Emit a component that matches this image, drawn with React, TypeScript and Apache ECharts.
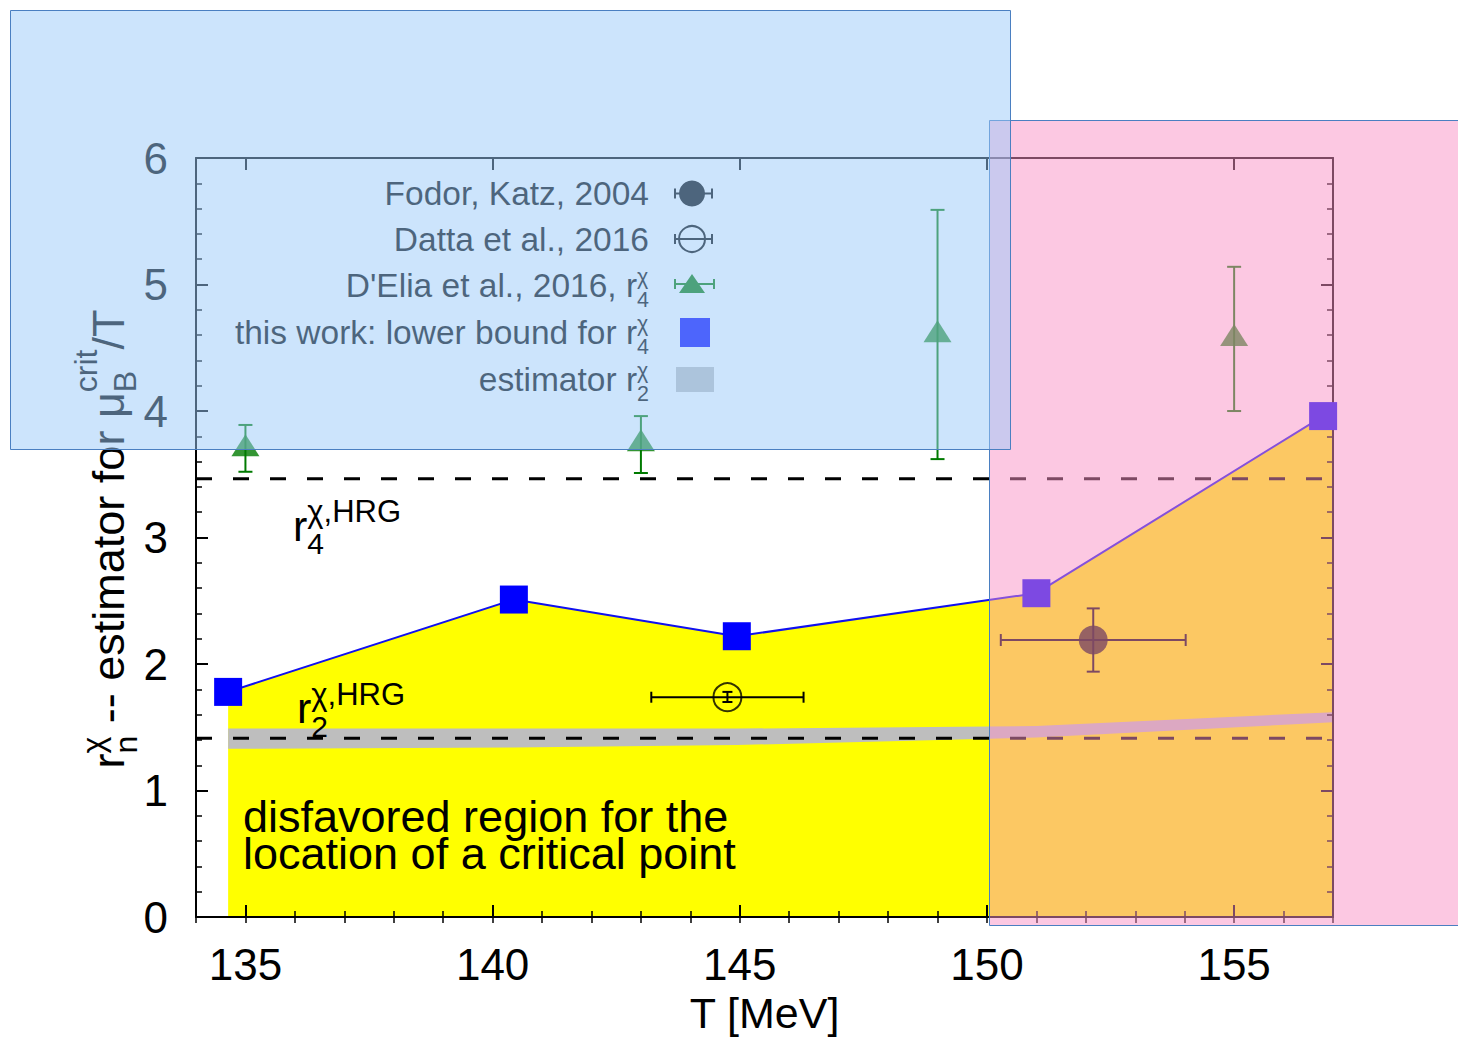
import React, { useEffect, useRef } from 'react';
import * as echarts from 'echarts';

const FONT = "'Liberation Sans', Arial, Helvetica, sans-serif";

// ---- axes ----
const xMin = 134;
const xMax = 157;
const xMajorTicks = [135, 140, 145, 150, 155];
const yMin = 0;
const yMax = 6;

// ---- this work: lower bound for r4 ----
const thisWorkT = [134.65, 140.43, 144.94, 151.0, 156.8];
const thisWorkV = [1.78, 2.51, 2.22, 2.56, 3.96];

// ---- upper boundary of the disfavored region (filled) ----
const regionT = [134.65, 140.43, 144.94, 151.0, 156.8, 157];
const regionV = [1.78, 2.51, 2.22, 2.56, 3.96, 4.0];

// ---- estimator r2 band ----
const bandT = [134.65, 140.43, 144.94, 151.0, 157];
const bandLo = [1.33, 1.34, 1.36, 1.42, 1.54];
const bandHi = [1.49, 1.49, 1.49, 1.51, 1.62];

// ---- D'Elia et al., 2016 ----
const deliaT = [135, 143, 149, 155];
const deliaV = [3.73, 3.77, 4.63, 4.6];
const deliaLo = [3.52, 3.51, 3.62, 4.0];
const deliaHi = [3.89, 3.96, 5.59, 5.14];

// ---- Fodor, Katz, 2004 ----
const fodorT = [152.15];
const fodorV = [2.19];
const fodorXErr = [1.87];
const fodorLo = [1.94];
const fodorHi = [2.44];

// ---- Datta et al., 2016 ----
const dattaT = [144.75];
const dattaV = [1.738];
const dattaXErr = [1.54];
const dattaLo = [1.7];
const dattaHi = [1.78];

// ---- HRG reference values ----
const hrgR4 = 3.464;
const hrgR2 = 1.414;

const GREEN = '#007a00';
const BLUE = '#0000ff';
const GRAY = '#bebebe';
const YELLOW = '#ffff00';

type Piece = { t: string; s: number; dy: number };

let measureCtx: CanvasRenderingContext2D | null = null;
function textWidth(t: string, s: number): number {
  if (!measureCtx) {
    const c = document.createElement('canvas');
    measureCtx = c.getContext('2d');
  }
  if (!measureCtx) return t.length * s * 0.55;
  measureCtx.font = `${s}px ${FONT}`;
  return measureCtx.measureText(t).width;
}

function buildRun(
  groups: Piece[][],
  x0: number,
  baseline: number,
  color: string,
  anchor: 'left' | 'right' | 'center',
  z: number
): any[] {
  const widths = groups.map((g) => Math.max(...g.map((p) => textWidth(p.t, p.s))));
  const total = widths.reduce((a, b) => a + b, 0);
  let x = anchor === 'left' ? x0 : anchor === 'right' ? x0 - total : x0 - total / 2;
  const els: any[] = [];
  groups.forEach((g, i) => {
    g.forEach((p) => {
      els.push({
        type: 'text',
        x,
        y: baseline + p.dy - 0.3465 * p.s,
        z,
        silent: true,
        style: {
          text: p.t,
          fontSize: p.s,
          fontFamily: FONT,
          fill: color,
          align: 'left',
          textAlign: 'left',
          verticalAlign: 'middle',
          textVerticalAlign: 'middle',
        },
      });
    });
    x += widths[i];
  });
  return els;
}

function errorBarItem(color: string, capX: number, capY: number) {
  return (_params: any, api: any) => {
    const x = api.value(0);
    const y = api.value(1);
    const xe = api.value(2);
    const lo = api.value(3);
    const hi = api.value(4);
    const style = { stroke: color, lineWidth: 2 };
    const pLo = api.coord([x, lo]);
    const pHi = api.coord([x, hi]);
    const children: any[] = [
      { type: 'line', shape: { x1: pLo[0], y1: pLo[1], x2: pHi[0], y2: pHi[1] }, style },
      { type: 'line', shape: { x1: pLo[0] - capX, y1: pLo[1], x2: pLo[0] + capX, y2: pLo[1] }, style },
      { type: 'line', shape: { x1: pHi[0] - capX, y1: pHi[1], x2: pHi[0] + capX, y2: pHi[1] }, style },
    ];
    if (xe > 0) {
      const pL = api.coord([x - xe, y]);
      const pR = api.coord([x + xe, y]);
      children.push(
        { type: 'line', shape: { x1: pL[0], y1: pL[1], x2: pR[0], y2: pR[1] }, style },
        { type: 'line', shape: { x1: pL[0], y1: pL[1] - capY, x2: pL[0], y2: pL[1] + capY }, style },
        { type: 'line', shape: { x1: pR[0], y1: pR[1] - capY, x2: pR[0], y2: pR[1] + capY }, style }
      );
    }
    return { type: 'group', children };
  };
}

function legendBar(cy: number, x1: number, x2: number, color: string): any[] {
  const style = { stroke: color, lineWidth: 2 };
  return [
    { type: 'line', z: 50, silent: true, shape: { x1, y1: cy, x2, y2: cy }, style },
    { type: 'line', z: 50, silent: true, shape: { x1, y1: cy - 5, x2: x1, y2: cy + 5 }, style },
    { type: 'line', z: 50, silent: true, shape: { x1: x2, y1: cy - 5, x2, y2: cy + 5 }, style },
  ];
}

function buildOption(): any {
  const axisLineStyle = { color: '#000', width: 2 };
  const majorTick = { show: true, inside: true, length: 12, lineStyle: { color: '#000', width: 2 } };
  const minorTickX = { show: true, inside: true, length: 6, lineStyle: { color: '#000', width: 1.5 } };

  const xBase = {
    type: 'value',
    min: xMin,
    max: xMax,
    z: 3,
    splitLine: { show: false },
  };

  const yBase = {
    type: 'value',
    min: yMin,
    max: yMax,
    interval: 1,
    z: 3,
    splitLine: { show: false },
    axisLine: { show: true, onZero: false, lineStyle: axisLineStyle },
    axisTick: majorTick,
    minorTick: { show: true, splitNumber: 5, length: 6, lineStyle: { color: '#000', width: 1.5 } },
  };

  const graphics: any[] = [];

  // y-axis title (rotated)
  const yTitleGroups: Piece[][] = [
    [{ t: 'r', s: 45, dy: 0 }],
    [
      { t: 'χ', s: 32, dy: -20 },
      { t: 'n', s: 32, dy: 13 },
    ],
    [{ t: ' -- estimator for μ', s: 45, dy: 0 }],
    [
      { t: 'crit', s: 32, dy: -27 },
      { t: 'B', s: 32, dy: 12 },
    ],
    [{ t: '/T', s: 45, dy: 0 }],
  ];
  const yTitleLen = yTitleGroups
    .map((g) => Math.max(...g.map((p) => textWidth(p.t, p.s))))
    .reduce((a, b) => a + b, 0);
  graphics.push({
    type: 'group',
    x: 124,
    y: 539 + yTitleLen / 2,
    rotation: Math.PI / 2,
    z: 50,
    children: buildRun(yTitleGroups, 0, 0, '#000', 'left', 50),
  });

  // HRG labels
  graphics.push(
    ...buildRun(
      [
        [{ t: 'r', s: 43, dy: 0 }],
        [
          { t: 'χ,HRG', s: 31, dy: -19 },
          { t: '4', s: 30, dy: 13 },
        ],
      ],
      293,
      541,
      '#000',
      'left',
      50
    )
  );
  graphics.push(
    ...buildRun(
      [
        [{ t: 'r', s: 43, dy: 0 }],
        [
          { t: 'χ,HRG', s: 31, dy: -18 },
          { t: '2', s: 30, dy: 14 },
        ],
      ],
      297,
      723,
      '#000',
      'left',
      50
    )
  );

  // disfavored region text (two tight lines in one text element)
  graphics.push({
    type: 'text',
    x: 243,
    y: 833 - 0.78 * 45,
    z: 50,
    silent: true,
    style: {
      text: 'disfavored region for the\nlocation of a critical point',
      fontSize: 45,
      fontFamily: FONT,
      fill: '#000',
      lineHeight: 37,
      align: 'left',
      textAlign: 'left',
      verticalAlign: 'top',
      textVerticalAlign: 'top',
    },
  });

  // legend texts
  const legendRight = 649;
  const LS = 33.5;
  const SS = 21.5;
  const SUP = -13;
  const SUB = 10;
  const legendRows: { groups: Piece[][]; baseline: number }[] = [
    { groups: [[{ t: 'Fodor, Katz, 2004', s: LS, dy: 0 }]], baseline: 205 },
    { groups: [[{ t: 'Datta et al., 2016', s: LS, dy: 0 }]], baseline: 251 },
    {
      groups: [
        [{ t: "D'Elia et al., 2016, r", s: LS, dy: 0 }],
        [
          { t: 'χ', s: SS, dy: SUP },
          { t: '4', s: SS, dy: SUB },
        ],
      ],
      baseline: 297,
    },
    {
      groups: [
        [{ t: 'this work: lower bound for r', s: LS, dy: 0 }],
        [
          { t: 'χ', s: SS, dy: SUP },
          { t: '4', s: SS, dy: SUB },
        ],
      ],
      baseline: 344,
    },
    {
      groups: [
        [{ t: 'estimator r', s: LS, dy: 0 }],
        [
          { t: 'χ', s: SS, dy: SUP },
          { t: '2', s: SS, dy: SUB },
        ],
      ],
      baseline: 391,
    },
  ];
  legendRows.forEach((r) => graphics.push(...buildRun(r.groups, legendRight, r.baseline, '#000', 'right', 50)));

  // legend symbols
  graphics.push(...legendBar(193.5, 675, 712, '#000'));
  graphics.push({ type: 'circle', z: 51, silent: true, shape: { cx: 692, cy: 193.5, r: 13 }, style: { fill: '#000' } });
  graphics.push(...legendBar(239, 675, 712, '#000'));
  graphics.push({
    type: 'circle',
    z: 51,
    silent: true,
    shape: { cx: 692, cy: 239, r: 13 },
    style: { fill: 'rgba(0,0,0,0)', stroke: '#000', lineWidth: 2 },
  });
  graphics.push(...legendBar(284, 675, 714, GREEN));
  graphics.push({
    type: 'polygon',
    z: 51,
    silent: true,
    shape: { points: [[692, 274], [705, 293], [679, 293]] },
    style: { fill: GREEN },
  });
  graphics.push({ type: 'rect', z: 51, silent: true, shape: { x: 680, y: 318, width: 30, height: 29 }, style: { fill: BLUE } });
  graphics.push({ type: 'rect', z: 51, silent: true, shape: { x: 676, y: 367, width: 38, height: 25 }, style: { fill: GRAY } });

  // overlays (pink first, blue on top)
  graphics.push({
    type: 'rect',
    z: 100,
    silent: true,
    shape: { x: 989.5, y: 120.5, width: 470, height: 805 },
    style: { fill: 'rgba(249,145,197,0.5)', stroke: '#4a7fc1', lineWidth: 1 },
  });
  graphics.push({
    type: 'rect',
    z: 101,
    silent: true,
    shape: { x: 10.5, y: 10.5, width: 1000, height: 439 },
    style: { fill: 'rgba(153,201,249,0.5)', stroke: '#4a7fc1', lineWidth: 1 },
  });

  return {
    animation: false,
    backgroundColor: '#ffffff',
    textStyle: { fontFamily: FONT },
    grid: { left: 196, right: 125, top: 158, bottom: 118, containLabel: false },
    xAxis: [
      {
        ...xBase,
        position: 'bottom',
        axisLine: { show: true, onZero: false, lineStyle: axisLineStyle },
        axisTick: { ...majorTick, customValues: xMajorTicks },
        axisLabel: {
          show: true,
          customValues: xMajorTicks,
          fontSize: 44,
          color: '#000',
          fontFamily: FONT,
          margin: 25,
        },
        name: 'T [MeV]',
        nameLocation: 'middle',
        nameGap: 71,
        nameTextStyle: { fontSize: 43, color: '#000', fontFamily: FONT },
      },
      {
        ...xBase,
        position: 'bottom',
        interval: 1,
        axisLine: { show: false },
        axisTick: minorTickX,
        axisLabel: { show: false },
      },
      {
        ...xBase,
        position: 'top',
        axisLine: { show: true, onZero: false, lineStyle: axisLineStyle },
        axisTick: { ...majorTick, customValues: xMajorTicks },
        axisLabel: { show: false },
      },
      {
        ...xBase,
        position: 'top',
        interval: 1,
        axisLine: { show: false },
        axisTick: minorTickX,
        axisLabel: { show: false },
      },
    ],
    yAxis: [
      {
        ...yBase,
        position: 'left',
        axisLabel: { show: true, fontSize: 44, color: '#000', fontFamily: FONT, margin: 28 },
      },
      {
        ...yBase,
        position: 'right',
        axisLabel: { show: false },
      },
    ],
    graphic: { elements: graphics },
    series: [
      {
        name: 'disfavored region',
        type: 'line',
        z: 1,
        data: regionT.map((t, i) => [t, regionV[i]]),
        symbol: 'none',
        lineStyle: { width: 0, opacity: 0 },
        areaStyle: { color: YELLOW, opacity: 1, origin: 'start' },
        silent: true,
      },
      {
        name: 'estimator r2',
        type: 'custom',
        z: 2,
        silent: true,
        data: [[bandT[0], bandLo[0]]],
        encode: { x: 0, y: 1 },
        renderItem: (_p: any, api: any) => {
          const pts: number[][] = [];
          for (let i = 0; i < bandT.length; i++) pts.push(api.coord([bandT[i], bandHi[i]]));
          for (let i = bandT.length - 1; i >= 0; i--) pts.push(api.coord([bandT[i], bandLo[i]]));
          return { type: 'polygon', shape: { points: pts }, style: { fill: GRAY } };
        },
      },
      {
        name: 'r4 HRG',
        type: 'line',
        z: 4,
        data: [
          [xMin, hrgR4],
          [xMax, hrgR4],
        ],
        symbol: 'none',
        lineStyle: { color: '#000', width: 3, type: [16, 21] },
        silent: true,
      },
      {
        name: 'r2 HRG',
        type: 'line',
        z: 4,
        data: [
          [xMin, hrgR2],
          [xMax, hrgR2],
        ],
        symbol: 'none',
        lineStyle: { color: '#000', width: 3, type: [16, 21] },
        silent: true,
      },
      {
        name: 'this work',
        type: 'line',
        z: 5,
        data: thisWorkT.map((t, i) => [t, thisWorkV[i]]),
        symbol: 'rect',
        symbolSize: 28,
        lineStyle: { color: '#1010f0', width: 2 },
        itemStyle: { color: BLUE },
      },
      {
        name: "D'Elia errors",
        type: 'custom',
        z: 5,
        data: deliaT.map((t, i) => [t, deliaV[i], 0, deliaLo[i], deliaHi[i]]),
        encode: { x: 0, y: 1 },
        renderItem: errorBarItem(GREEN, 7, 6),
      },
      {
        name: 'Fodor errors',
        type: 'custom',
        z: 5,
        data: fodorT.map((t, i) => [t, fodorV[i], fodorXErr[i], fodorLo[i], fodorHi[i]]),
        encode: { x: 0, y: 1 },
        renderItem: errorBarItem('#000', 6.5, 6),
      },
      {
        name: 'Datta errors',
        type: 'custom',
        z: 5,
        data: dattaT.map((t, i) => [t, dattaV[i], dattaXErr[i], dattaLo[i], dattaHi[i]]),
        encode: { x: 0, y: 1 },
        renderItem: errorBarItem('#000', 5, 5.5),
      },
      {
        name: "D'Elia et al., 2016",
        type: 'scatter',
        z: 6,
        data: deliaT.map((t, i) => [t, deliaV[i]]),
        symbol: 'triangle',
        symbolSize: [28, 22],
        itemStyle: { color: GREEN },
      },
      {
        name: 'Fodor, Katz, 2004',
        type: 'scatter',
        z: 6,
        data: fodorT.map((t, i) => [t, fodorV[i]]),
        symbol: 'circle',
        symbolSize: 29,
        itemStyle: { color: '#000' },
      },
      {
        name: 'Datta et al., 2016',
        type: 'scatter',
        z: 6,
        data: dattaT.map((t, i) => [t, dattaV[i]]),
        symbol: 'circle',
        symbolSize: 28,
        itemStyle: { color: 'rgba(0,0,0,0)', borderColor: '#000', borderWidth: 2 },
      },
    ],
  };
}

export default function App() {
  const ref = useRef<HTMLDivElement>(null);
  useEffect(() => {
    if (!ref.current) return;
    const chart = echarts.init(ref.current, null, { renderer: 'svg' });
    chart.setOption(buildOption());
    return () => {
      chart.dispose();
    };
  }, []);
  return (
    <div
      ref={ref}
      style={{ position: 'absolute', left: 0, top: 0, width: 1458, height: 1039, background: '#fff' }}
    />
  );
}
